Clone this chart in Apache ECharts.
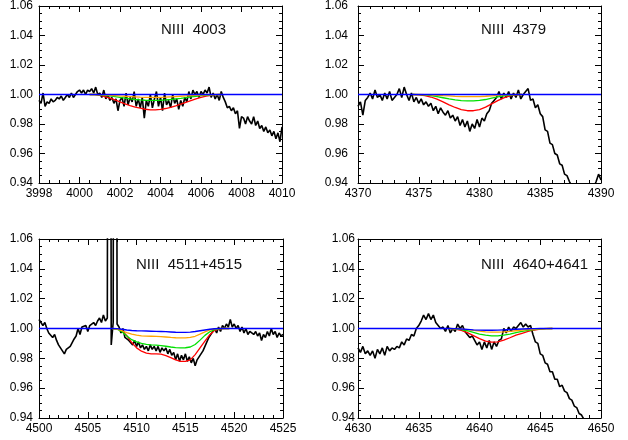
<!DOCTYPE html>
<html><head><meta charset="utf-8">
<script src="https://cdn.jsdelivr.net/npm/echarts@6/dist/echarts.min.js"></script>
<style>html,body{margin:0;padding:0;background:#fff}#c{width:628px;height:440px}</style>
</head><body><div id="c"></div>
<script>
// ---------- panel titles ----------
const titles = ['NIII  4003', 'NIII  4379', 'NIII  4511+4515', 'NIII  4640+4641'];

// ---------- axis ranges / ticks ----------
const xMins = [3998, 4370, 4500, 4630];
const xMaxs = [4010, 4390, 4525, 4650];
const xIntervals = [2, 5, 5, 5];
const xMinorSplits = [4, 5, 5, 5];
const yMin = 0.94, yMax = 1.06, yInterval = 0.02, yMinorSplit = 4;

// ---------- observed spectra (normalised flux) ----------
const spec1Start = 3998.0, spec1Step = 0.1;
const spec1Flux = [
  0.996,0.994,1.001,0.992,0.995,0.994,0.997,0.995,0.996,0.998,
  0.997,0.999,0.996,0.998,1.000,0.998,1.001,0.998,1.000,1.002,
  1.003,1.001,1.003,1.000,1.003,1.002,1.004,1.001,1.005,1.000,
  1.001,0.998,1.003,0.997,1.000,0.996,0.998,0.994,0.997,0.989,
  0.996,0.998,0.992,1.001,0.993,0.998,0.995,1.002,0.992,0.997,
  0.991,0.998,0.984,0.996,0.992,1.000,0.991,0.997,1.002,0.992,
  0.998,0.989,1.001,0.993,0.996,0.991,1.000,0.994,0.997,0.990,
  0.996,0.992,0.998,0.995,1.002,0.997,1.003,1.000,1.002,0.998,
  1.002,1.000,1.003,1.001,1.005,0.998,1.001,0.997,1.000,0.996,
  1.002,0.998,0.995,0.991,0.992,0.989,0.991,0.987,0.989,0.977,
  0.985,0.984,0.980,0.985,0.982,0.980,0.985,0.979,0.982,0.977,
  0.979,0.975,0.978,0.974,0.976,0.972,0.975,0.970,0.974,0.968,
  0.978
];

const spec2Start = 4370.0, spec2Step = 0.2;
const spec2Flux = [
  0.992,0.995,0.986,0.996,0.998,1.001,0.997,1.003,0.998,1.000,
  0.996,1.001,0.997,1.002,0.996,0.998,1.000,1.004,0.998,1.005,
  1.000,0.996,1.001,0.995,0.998,0.994,0.997,0.993,0.995,0.992,
  0.994,0.989,0.992,0.987,0.991,0.988,0.986,0.989,0.984,0.986,
  0.982,0.985,0.979,0.983,0.978,0.982,0.975,0.980,0.977,0.983,
  0.978,0.984,0.982,0.987,0.989,0.994,0.996,0.998,1.002,0.997,
  1.001,0.998,1.002,0.997,1.001,0.998,1.003,0.997,1.000,1.002,
  1.004,0.996,0.997,0.991,0.993,0.987,0.985,0.976,0.975,0.967,
  0.966,0.960,0.959,0.953,0.952,0.946,0.945,0.941,0.938,0.936,
  0.934,0.933,0.932,0.932,0.933,0.934,0.935,0.937,0.941,0.946,
  0.942
];

const spec3Start = 4500.0, spec3Step = 0.2;
const spec3Flux = [
  1.006,1.005,1.002,1.004,1.000,0.997,0.998,0.994,0.996,0.992,
  0.989,0.987,0.985,0.983,0.986,0.985,0.988,0.989,0.993,0.995,
  1.000,0.996,1.001,1.000,1.002,0.998,1.002,1.001,1.004,1.002,
  1.005,1.007,1.004,1.009,1.005,1.007,1.900,0.989,1.004,1.900,
  1.003,1.001,0.997,1.000,0.994,0.995,0.992,0.993,0.989,0.992,
  0.988,0.991,0.987,0.989,0.986,0.988,0.985,0.989,0.986,0.988,
  0.985,0.988,0.984,0.987,0.985,0.987,0.983,0.986,0.982,0.984,
  0.979,0.983,0.978,0.982,0.979,0.983,0.978,0.981,0.977,0.980,
  0.975,0.979,0.978,0.983,0.985,0.988,0.991,0.994,0.996,0.998,
  1.000,0.997,1.001,0.998,1.002,1.000,1.003,1.001,1.006,1.001,
  1.003,1.000,1.002,0.998,1.001,0.997,1.000,0.996,0.998,0.997,
  0.996,0.998,0.995,0.997,0.992,0.996,0.994,0.998,0.995,1.000,
  0.996,0.998,0.994,0.997,0.995,0.996
];

const spec4Start = 4630.0, spec4Step = 0.2;
const spec4Flux = [
  0.987,0.984,0.988,0.983,0.985,0.982,0.985,0.980,0.986,0.983,
  0.987,0.982,0.988,0.985,0.987,0.986,0.988,0.987,0.991,0.989,
  0.993,0.992,0.996,0.995,1.000,1.002,1.005,1.009,1.006,1.010,
  1.006,1.009,1.004,1.002,1.000,1.001,0.998,1.002,0.997,1.000,
  0.998,1.003,1.000,1.002,0.998,0.996,0.994,0.995,0.992,0.989,
  0.991,0.986,0.991,0.987,0.992,0.986,0.991,0.988,0.992,0.993,
  1.000,0.997,1.001,0.998,1.001,1.000,1.002,1.004,1.001,1.003,
  1.001,1.002,0.996,0.991,0.990,0.983,0.982,0.977,0.976,0.971,
  0.971,0.966,0.966,0.961,0.962,0.958,0.957,0.953,0.952,0.948,
  0.947,0.943,0.942,0.939,0.938,0.937,0.936,0.935,0.934,0.934,
  0.933
];

// ---------- model profiles ----------
const model1Start = 4000.5, model1Step = 0.25;
const red1 = [1.000,1.000,0.9995,0.9985,0.9975,0.9963,0.9950,0.9937,0.9925,0.9915,0.9907,0.9900,0.9896,0.9896,0.9899,0.9905,0.9913,0.9923,0.9934,0.9946,0.9958,0.9970,0.9980,0.9989,0.9995,0.9999,1.000];
const green1 = [1.000,1.000,0.9998,0.9994,0.9990,0.9985,0.9980,0.9975,0.9970,0.9966,0.9963,0.9961,0.9960,0.9960,0.9961,0.9963,0.9966,0.9970,0.9974,0.9979,0.9984,0.9988,0.9992,0.9995,0.9998,0.9999,1.000];
const orange1 = [1.000,1.000,0.9999,0.9997,0.9995,0.9993,0.9990,0.9988,0.9986,0.9984,0.9982,0.9981,0.9980,0.9980,0.9981,0.9982,0.9984,0.9986,0.9988,0.9990,0.9992,0.9994,0.9996,0.9998,0.9999,1.000,1.000];
const blue1Start = 3998, blue1Step = 1;
const blue1 = [1,1,1,1,1,1,1,1,1,1,1,1,1];

const model2Start = 4374.5, model2Step = 0.5;
const red2 = [1.000,0.9998,0.9993,0.9983,0.9968,0.9950,0.9930,0.9912,0.9898,0.9890,0.9890,0.9898,0.9914,0.9936,0.9958,0.9977,0.9990,0.9997,1.000];
const green2 = [1.000,0.9999,0.9997,0.9993,0.9986,0.9978,0.9970,0.9963,0.9958,0.9957,0.9957,0.9960,0.9966,0.9975,0.9984,0.9991,0.9996,0.9999,1.000];
const orange2 = [1.000,1.000,0.9999,0.9998,0.9995,0.9992,0.9990,0.9987,0.9986,0.9985,0.9985,0.9986,0.9988,0.9991,0.9994,0.9997,0.9999,1.000,1.000];
const blue2Start = 4370, blue2Step = 1;
const blue2 = [1,1,1,1,1,1,1,1,1,1,1,1,1,1,1,1,1,1,1,1,1];

const model3Start = 4507.5, model3Step = 0.5;
const red3 = [1.000,0.9998,0.9985,0.9952,0.9906,0.9870,0.9848,0.9835,0.9830,0.9830,0.9828,0.9818,0.9805,0.9790,0.9780,0.9779,0.9790,0.9825,0.9870,0.9915,0.9958,0.9988,0.9998,1.000,1.000];
const green3 = [1.000,0.9995,0.9978,0.9950,0.9925,0.9910,0.9900,0.9894,0.9890,0.9888,0.9885,0.9881,0.9876,0.9872,0.9870,0.9871,0.9876,0.9893,0.9922,0.9954,0.9978,0.9993,0.9999,1.000,1.000];
const orange3 = [1.000,0.9996,0.9985,0.9972,0.9962,0.9955,0.9951,0.9949,0.9948,0.9947,0.9945,0.9943,0.9940,0.9938,0.9937,0.9937,0.9940,0.9948,0.9962,0.9977,0.9990,0.9997,1.000,1.000,1.000];
const blue3Start = 4500, blue3Step = 0.5;
const blue3 = [
  1,1,1,1,1,1,1,1,1,1,1,1,1,1,1,
  1.000,0.9999,0.9995,0.9990,0.9987,0.9985,0.9984,0.9983,0.9982,0.9981,0.9980,0.9979,0.9977,0.9975,0.9974,0.9974,0.9976,0.9980,0.9985,0.9990,0.9995,0.9998,1.000,1.000,1.000,
  1,1,1,1,1,1,1,1,1,1,1
];

const model4Start = 4637.5, model4Step = 0.5;
const red4 = [1.000,0.9996,0.9987,0.9972,0.9952,0.9932,0.9916,0.9908,0.9910,0.9922,0.9938,0.9955,0.9968,0.9980,0.9990,0.9996,0.9999,1.000];
const green4 = [1.000,0.9998,0.9993,0.9985,0.9974,0.9963,0.9955,0.9951,0.9951,0.9955,0.9963,0.9972,0.9980,0.9987,0.9993,0.9997,0.9999,1.000];
const orange4 = [1.000,0.9999,0.9996,0.9992,0.9987,0.9982,0.9978,0.9976,0.9976,0.9978,0.9981,0.9985,0.9989,0.9993,0.9996,0.9998,1.000,1.000];
const blue4Start = 4630, blue4Step = 0.5;
const blue4 = [
  1,1,1,1,1,1,1,1,1,1,1,1,1,1,1,1,
  0.9999,0.9997,0.9994,0.9991,0.9989,0.9988,0.9988,0.9989,0.9991,0.9993,0.9995,0.9997,0.9998,0.9999,1.000,
  1,1,1,1,1,1,1,1,1,1
];

// ---------- build ----------
function pairs(start, step, vals) {
  return vals.map((v, i) => [+(start + i * step).toFixed(4), v]);
}
const panels = [
  {spec: pairs(spec1Start, spec1Step, spec1Flux),
   red: pairs(model1Start, model1Step, red1), green: pairs(model1Start, model1Step, green1),
   orange: pairs(model1Start, model1Step, orange1), blue: pairs(blue1Start, blue1Step, blue1)},
  {spec: pairs(spec2Start, spec2Step, spec2Flux),
   red: pairs(model2Start, model2Step, red2), green: pairs(model2Start, model2Step, green2),
   orange: pairs(model2Start, model2Step, orange2), blue: pairs(blue2Start, blue2Step, blue2)},
  {spec: pairs(spec3Start, spec3Step, spec3Flux),
   red: pairs(model3Start, model3Step, red3), green: pairs(model3Start, model3Step, green3),
   orange: pairs(model3Start, model3Step, orange3), blue: pairs(blue3Start, blue3Step, blue3)},
  {spec: pairs(spec4Start, spec4Step, spec4Flux),
   red: pairs(model4Start, model4Step, red4), green: pairs(model4Start, model4Step, green4),
   orange: pairs(model4Start, model4Step, orange4), blue: pairs(blue4Start, blue4Step, blue4)}
];

const grids = [
  {left: 39, top: 5, width: 243, height: 178},
  {left: 358, top: 5, width: 243, height: 178},
  {left: 39, top: 239, width: 244, height: 179},
  {left: 358, top: 239, width: 243, height: 179}
];
const yLabelMargins = [6, 10, 6, 3];
const titlePos = [[161, 30], [481, 30], [136, 265], [481, 265]];

const FONT = 'Liberation Sans, Arial, sans-serif';
const lineCol = '#000';

const xAxes = [], yAxes = [], series = [], graphics = [];
grids.forEach((g, i) => {
  const base = {
    gridIndex: i, type: 'value', splitLine: {show: false},
    axisLine: {show: true, onZero: false, lineStyle: {color: lineCol, width: 1}},
    axisTick: {show: true, inside: true, length: 6, lineStyle: {color: lineCol, width: 1}},
  };
  const xb = Object.assign({}, base, {
    min: xMins[i], max: xMaxs[i], interval: xIntervals[i],
    minorTick: {show: true, splitNumber: xMinorSplits[i], length: 3, lineStyle: {color: lineCol}}
  });
  xAxes.push(Object.assign({}, xb, {position: 'bottom',
    axisLabel: {show: true, color: '#000', fontSize: 12, fontFamily: FONT, margin: 5,
      formatter: v => String(Math.round(v))}}));
  xAxes.push(Object.assign({}, xb, {position: 'top', axisLabel: {show: false}}));
  const yb = Object.assign({}, base, {
    min: yMin, max: yMax, interval: yInterval,
    minorTick: {show: true, splitNumber: yMinorSplit, length: 3, lineStyle: {color: lineCol}}
  });
  yAxes.push(Object.assign({}, yb, {position: 'left',
    axisLabel: {show: true, color: '#000', fontSize: 12, fontFamily: FONT, margin: yLabelMargins[i],
      formatter: v => v.toFixed(2)}}));
  yAxes.push(Object.assign({}, yb, {position: 'right', axisLabel: {show: false}}));

  const p = panels[i];
  const mk = (data, color, w, z) => ({
    type: 'line', xAxisIndex: 2 * i, yAxisIndex: 2 * i, data: data,
    showSymbol: false, symbol: 'none', clip: true, z: z,
    lineStyle: {color: color, width: w}, silent: true
  });
  series.push(mk(p.spec, '#000000', 1.6, 2));
  series.push(mk(p.red, '#ff0000', 1.3, 3));
  series.push(mk(p.green, '#00e000', 1.3, 4));
  series.push(mk(p.orange, '#ffa500', 1.3, 5));
  series.push(mk(p.blue, '#0000ff', 1.4, 6));

  graphics.push({type: 'text', x: titlePos[i][0], y: titlePos[i][1],
    style: {text: titles[i], fontSize: 15, fontFamily: FONT, fill: '#111',
      verticalAlign: 'middle', align: 'left'}});
});

const chart = echarts.init(document.getElementById('c'), null, {renderer: 'canvas', width: 628, height: 440});
chart.setOption({
  animation: false,
  backgroundColor: '#fff',
  grid: grids,
  xAxis: xAxes,
  yAxis: yAxes,
  series: series,
  graphic: graphics
});
</script>
</body></html>
